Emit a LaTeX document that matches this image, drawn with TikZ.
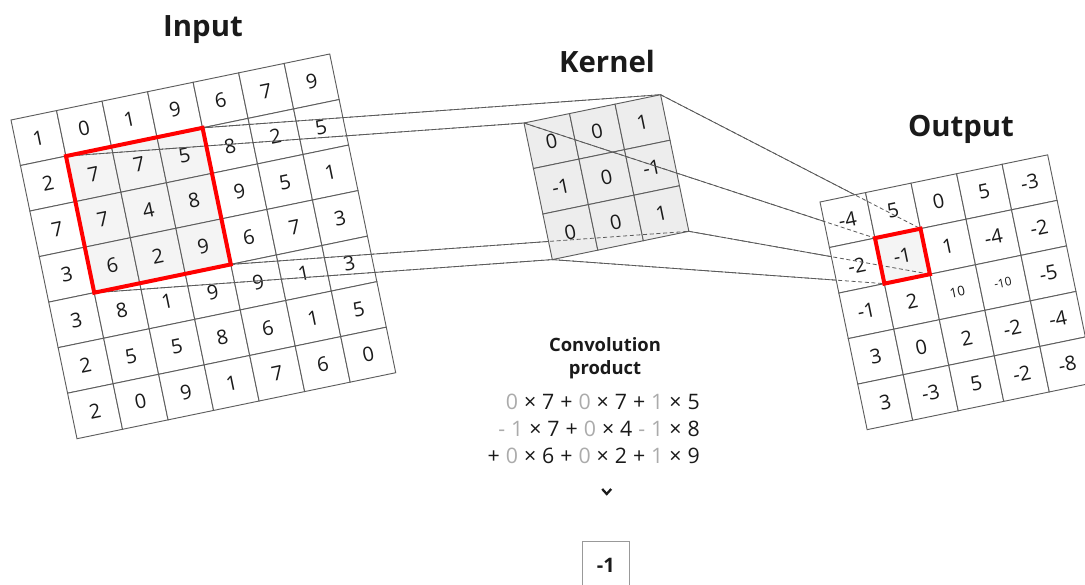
\documentclass[tikz,border=0pt]{standalone}
\usepackage{fontspec}
\setmainfont{Open Sans}
\definecolor{gridc}{HTML}{5E5E5E}
\definecolor{linec}{HTML}{5A5A5A}
\definecolor{hl}{HTML}{F4F4F4}
\definecolor{kf}{HTML}{EDEDED}
\definecolor{coef}{HTML}{ABABAB}
\definecolor{redc}{HTML}{FF0000}
\definecolor{txt}{HTML}{1A1A1A}
\newcommand{\cg}[1]{\textcolor{coef}{#1}}
\newcommand{\eqsp}{\spaceskip=0.28em\relax}
\tikzset{
  cell/.style={draw=gridc, line width=0.7pt, minimum size=34.875pt, inner sep=0pt, outer sep=0pt, text=txt},
  frame/.style={minimum size=104.625pt, inner sep=0pt, outer sep=0pt},
  oframe/.style={minimum size=34.875pt, inner sep=0pt, outer sep=0pt},
  redframe/.style={draw=redc, line width=3pt, line join=miter},
  conn/.style={draw=linec, line width=0.6pt},
  hidden/.style={draw=linec, line width=0.6pt, dash pattern=on 3pt off 2pt},
  heading/.style={font=\fontsize{22}{26}\selectfont\bfseries, anchor=base, text=txt},
  eqline/.style={font=\fontsize{16}{19}\selectfont, anchor=base east, inner sep=0pt, text=txt},
  conv/.style={font=\fontsize{13.8}{16}\selectfont\bfseries, anchor=base, inner sep=0pt, text=txt},
}
\begin{document}
\begin{tikzpicture}[x=0.75pt,y=-0.75pt]
\useasboundingbox (0,0) rectangle (1085,585);
\clip (0,0) rectangle (1085,585);

% ---- frames (named, invisible) ----
\begin{scope}[shift={(11,120)}, rotate=11.7, transform shape]
  \node[frame] (inbox) at (116.25,116.25) {};
\end{scope}
\begin{scope}[shift={(524,123)}, rotate=11.7, transform shape]
  \node[frame] (kbox) at (69.75,69.75) {};
\end{scope}
\begin{scope}[shift={(820,202)}, rotate=11.7, transform shape]
  \node[oframe] (outbox) at (69.75,69.75) {};
\end{scope}

% ---- headings ----
\node[heading] (tin) at (203,37) {Input};
\node[heading] (tk) at (607,73) {Kernel};
\node[heading] (tout) at (961,137) {Output};

% ---- input grid ----
\begin{scope}[shift={(11,120)}, rotate=11.7, transform shape]
  \foreach \row [count=\r from 0] in {{1,0,1,9,6,7,9},{2,7,7,5,8,2,5},{7,7,4,8,9,5,1},{3,6,2,9,6,7,3},{3,8,1,9,9,1,3},{2,5,5,8,6,1,5},{2,0,9,1,7,6,0}}{
    \foreach \v [count=\c from 0] in \row {
      \def\fc{white}
      \ifnum\r>0\relax\ifnum\r<4\relax\ifnum\c>0\relax\ifnum\c<4\relax\def\fc{hl}\fi\fi\fi\fi
      \node[cell, fill=\fc, font=\fontsize{15}{17}\selectfont] (in-\r-\c) at ({\c*46.5+23.25},{\r*46.5+23.25}) {\v};
    }
  }
\end{scope}

% ---- input -> kernel (solid) ----
\foreach \a in {north west,north east,south east,south west}
  \draw[conn] (inbox.\a) -- (kbox.\a);

% ---- kernel ----
\begin{scope}[shift={(524,123)}, rotate=11.7, transform shape]
  \foreach \row [count=\r from 0] in {{0,0,1},{-1,0,-1},{0,0,1}}{
    \foreach \v [count=\c from 0] in \row {
      \node[cell, fill=kf, font=\fontsize{15}{17}\selectfont] (k-\r-\c) at ({\c*46.5+23.25},{\r*46.5+23.25}) {\v};
    }
  }
\end{scope}

% ---- input -> kernel (hidden part) ----
\foreach \a in {north west,north east,south east,south west}
  \draw[hidden] (inbox.\a) -- (kbox.\a);

% ---- kernel -> output (solid) ----
\foreach \a in {north west,north east,south east,south west}
  \draw[conn] (kbox.\a) -- (outbox.\a);

% ---- output grid ----
\begin{scope}[shift={(820,202)}, rotate=11.7, transform shape]
  \foreach \row [count=\r from 0] in {{-4,5,0,5,-3},{-2,-1,1,-4,-2},{-1,2,10,-10,-5},{3,0,2,-2,-4},{3,-3,5,-2,-8}}{
    \foreach \v [count=\c from 0] in \row {
      \def\fc{white}
      \ifnum\r=1\relax\ifnum\c=1\relax\def\fc{hl}\fi\fi
      \def\fs{15}
      \ifnum\v>9\relax\def\fs{10}\fi
      \ifnum\v<-9\relax\def\fs{9}\fi
      \node[cell, fill=\fc, font=\fontsize{\fs}{17}\selectfont] (out-\r-\c) at ({\c*46.5+23.25},{\r*46.5+23.25}) {\v};
    }
  }
\end{scope}

% ---- kernel -> output (hidden part) ----
\foreach \a in {north west,north east,south east,south west}
  \draw[hidden] (kbox.\a) -- (outbox.\a);

% ---- red frames ----
\draw[redframe] (inbox.north west) -- (inbox.north east) -- (inbox.south east) -- (inbox.south west) -- cycle;
\draw[redframe] (outbox.north west) -- (outbox.north east) -- (outbox.south east) -- (outbox.south west) -- cycle;

% ---- convolution product ----
\node[conv] (conv1) at (605,351.5) {Convolution};
\node[conv] (conv2) at (605,374) {product};
\node[eqline] (eq1) at (700,409) {\eqsp\cg{0} × 7 + \cg{0} × 7 + \cg{1} × 5};
\node[eqline] (eq2) at (700,436.5) {\eqsp\cg{- 1} × 7 + \cg{0} × 4 \cg{- 1} × 8};
\node[eqline] (eq3) at (700,463) {\eqsp + \cg{0} × 6 + \cg{0} × 2 + \cg{1} × 9};
\draw[line width=1.7pt, txt] (602.2,489) -- (606.7,494) -- (611.2,489);
\node[draw=gray!80, line width=0.8pt, minimum width=35.25pt, minimum height=36pt, inner sep=0pt, font=\fontsize{15}{17}\selectfont\bfseries, text=txt] (res) at (605.8,565.7) {-1};
\end{tikzpicture}
\end{document}
